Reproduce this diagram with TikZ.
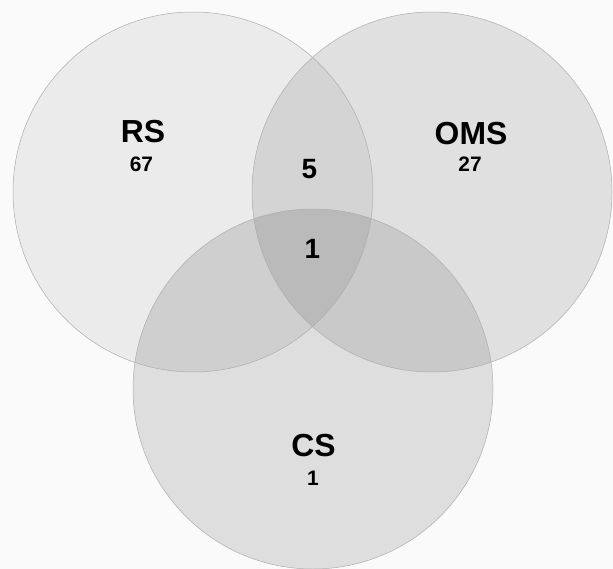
\documentclass[tikz,border=0pt]{standalone}
\usepackage{fontspec}
\setmainfont{Liberation Sans}
\begin{document}
\begin{tikzpicture}[x=1bp,y=-1bp,
  setline/.style={draw=black!32,line width=0.5bp},
  big/.style={font=\fontsize{32}{34}\selectfont\bfseries,inner sep=0},
  num/.style={font=\fontsize{21}{23}\selectfont\bfseries,inner sep=0},
  mid/.style={font=\fontsize{28}{30}\selectfont\bfseries,inner sep=0}]
\useasboundingbox (0,0) rectangle (613,569);
\fill[black!2] (0,0) rectangle (613,569);
\coordinate (rs) at (193,192);
\coordinate (oms) at (432,192);
\coordinate (cs) at (313,389);
\def\R{180}
% single circles
\fill[black!8] (rs) circle (\R);
\fill[black!12] (oms) circle (\R);
\fill[black!13] (cs) circle (\R);
% pairwise
\begin{scope}
  \clip (rs) circle (\R);
  \fill[black!17] (oms) circle (\R);
  \fill[black!19] (cs) circle (\R);
\end{scope}
\begin{scope}
  \clip (oms) circle (\R);
  \fill[black!21] (cs) circle (\R);
\end{scope}
\begin{scope}
  \clip (rs) circle (\R);
  \clip (oms) circle (\R);
  \fill[black!27] (cs) circle (\R);
\end{scope}
\draw[setline] (rs) circle (\R);
\draw[setline] (oms) circle (\R);
\draw[setline] (cs) circle (\R);
% labels
\node[big] (lrs) at (143,132) {RS};
\node[num] (nrs) at (141.5,164) {67};
\node[big] (loms) at (471,134) {OMS};
\node[num] (noms) at (470,164) {27};
\node[mid] (nro) at (309.5,169.5) {5};
\node[mid] (nall) at (312.5,248.5) {1};
\node[big] (lcs) at (313.5,446) {CS};
\node[num] (ncs) at (313,478) {1};
\end{tikzpicture}
\end{document}
